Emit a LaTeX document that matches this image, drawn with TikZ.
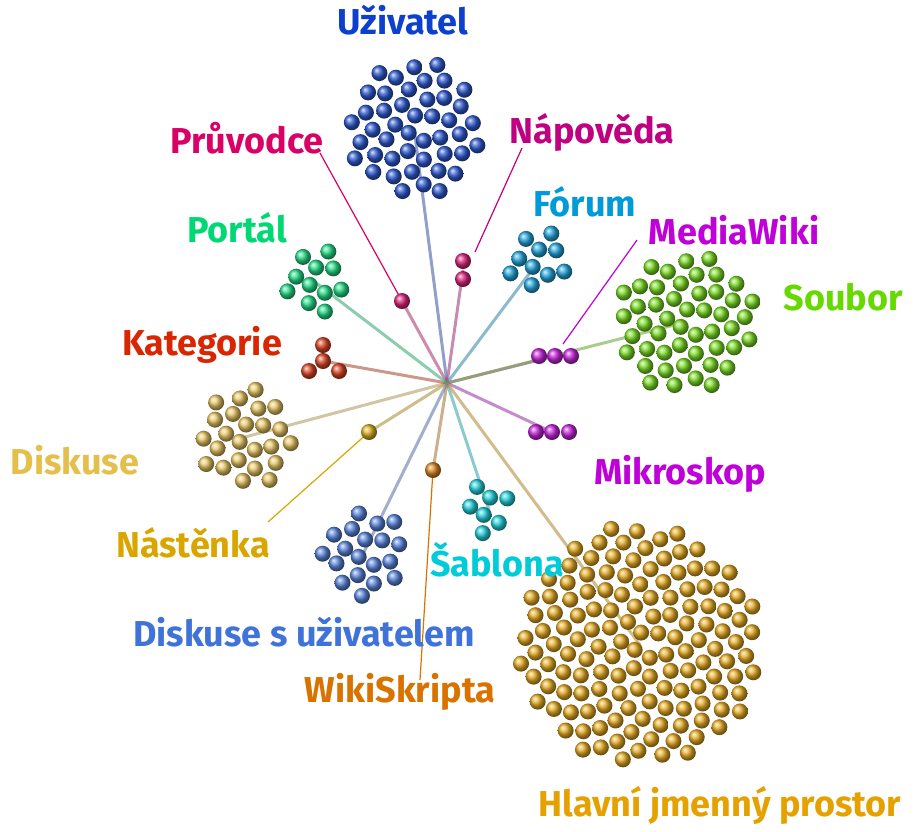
\documentclass[tikz,border=0pt]{standalone}
\usepackage{fontspec}
\setmainfont{Fira Sans}
\definecolor{uzivatel}{rgb}{0.05,0.25,0.8}
\definecolor{pruvodce}{rgb}{0.85,0.0,0.4}
\definecolor{napoveda}{rgb}{0.75,0.0,0.5}
\definecolor{forum}{rgb}{0.0,0.6,0.85}
\definecolor{mediawiki}{rgb}{0.75,0.0,0.85}
\definecolor{soubor}{rgb}{0.4,0.85,0.0}
\definecolor{sablona}{rgb}{0.0,0.8,0.85}
\definecolor{hlavni}{rgb}{0.9,0.63,0.0}
\definecolor{wikiskripta}{rgb}{0.85,0.45,0.0}
\definecolor{diskuseu}{rgb}{0.25,0.45,0.85}
\definecolor{nastenka}{rgb}{0.85,0.65,0.0}
\definecolor{diskuse}{rgb}{0.9,0.75,0.3}
\definecolor{kategorie}{rgb}{0.85,0.15,0.0}
\definecolor{portal}{rgb}{0.0,0.85,0.45}

\newcommand{\ballat}[3]{\shade[ball color=#3!85!white] (#1,#2) circle (8);}
\newcommand{\cluster}[4]{%
  \foreach \k in {1,...,#3}{
    \pgfmathsetmacro\rr{10.2*sqrt(\k-0.5)}
    \pgfmathsetmacro\aa{2*mod(\k*68.754,180)}
    \shade[ball color=#4!85!white] ({#1+\rr*cos(\aa)},{#2+\rr*sin(\aa)}) circle (8);
  }}

\begin{document}
\begin{tikzpicture}[x=1pt,y=-1pt,
    lbl/.style={font=\fontsize{36}{40}\selectfont\bfseries},
    spoke/.style={line width=3pt,opacity=0.6},
    pin/.style={line width=1.2pt}]
\useasboundingbox (0,0) rectangle (917,831);

% hub and cluster centres
\coordinate (hub) at (447,383);
\coordinate (c-uziv) at (414,128);
\coordinate (c-pruv) at (402,301);
\coordinate (c-napo) at (463,270);
\coordinate (c-foru) at (538,262);
\coordinate (c-medi) at (555,356);
\coordinate (c-soub) at (686,322);
\coordinate (c-mikr) at (552,432);
\coordinate (c-sabl) at (489,510);
\coordinate (c-hlav) at (640,645);
\coordinate (c-wiki) at (433,470);
\coordinate (c-disu) at (364,552);
\coordinate (c-nast) at (369,432);
\coordinate (c-disk) at (245,437);
\coordinate (c-kate) at (323,361);
\coordinate (c-port) at (315,282);

% spokes
\foreach \c/\col in {uziv/uzivatel,pruv/pruvodce,napo/napoveda,foru/forum,
    medi/mediawiki,soub/soubor,mikr/mediawiki,sabl/sablona,hlav/hlavni,
    wiki/wikiskripta,disu/diskuseu,nast/nastenka,disk/diskuse,kate/kategorie,port/portal}
  \draw[spoke,color=\col!50!gray] (hub) -- (c-\c);

% label pins
\coordinate (p-pruv) at (320,153);
\coordinate (p-napo) at (522,148);
\coordinate (p-medi) at (637,240);
\coordinate (p-wiki) at (420,680);
\coordinate (p-nast) at (268,522);
\draw[pin,pruvodce] (c-pruv) -- (p-pruv);
\draw[pin,napoveda] (c-napo) ++(12,-18) -- (p-napo);
\draw[pin,mediawiki] (c-medi) ++(8,-12) -- (p-medi);
\draw[pin,wikiskripta] (c-wiki) -- (p-wiki);
\draw[pin,nastenka] (c-nast) -- (p-nast);

% balls
\cluster{414}{128}{45}{uzivatel}
\ballat{402}{301}{pruvodce}
\ballat{463}{261}{pruvodce}
\ballat{463}{279}{pruvodce}
\cluster{538}{262}{10}{forum}
\ballat{539}{356}{mediawiki}
\ballat{555}{356}{mediawiki}
\ballat{571}{356}{mediawiki}
\cluster{686}{322}{48}{soubor}
\ballat{536}{432}{mediawiki}
\ballat{552}{432}{mediawiki}
\ballat{569}{432}{mediawiki}
\cluster{489}{510}{7}{sablona}
\cluster{640}{645}{140}{hlavni}
\ballat{433}{470}{wikiskripta}
\cluster{364}{552}{19}{diskuseu}
\ballat{369}{432}{nastenka}
\cluster{245}{437}{24}{diskuse}
\ballat{323}{345}{kategorie}
\ballat{323}{361}{kategorie}
\ballat{309}{371}{kategorie}
\ballat{339}{371}{kategorie}
\cluster{315}{280}{11}{portal}

% labels
\node[lbl,uzivatel] (l-uziv) at (403,20) {Uživatel};
\node[lbl,pruvodce] (l-pruv) at (247,138) {Průvodce};
\node[lbl,napoveda] (l-napo) at (592,132) {Nápověda};
\node[lbl,forum] (l-foru) at (585,202) {Fórum};
\node[lbl,mediawiki] (l-medi) at (734,230) {MediaWiki};
\node[lbl,soubor] (l-soub) at (843,297) {Soubor};
\node[lbl,mediawiki] (l-mikr) at (680,474) {Mikroskop};
\node[lbl,sablona] (l-sabl) at (497,560) {Šablona};
\node[lbl,hlavni] (l-hlav) at (720,805) {Hlavní jmenný prostor};
\node[lbl,wikiskripta] (l-wiki) at (400,692) {WikiSkripta};
\node[lbl,diskuseu] (l-disu) at (304,632) {Diskuse s uživatelem};
\node[lbl,nastenka] (l-nast) at (193,543) {Nástěnka};
\node[lbl,diskuse] (l-disk) at (75,460) {Diskuse};
\node[lbl,kategorie] (l-kate) at (202,345) {Kategorie};
\node[lbl,portal] (l-port) at (237,228) {Portál};
\end{tikzpicture}
\end{document}
